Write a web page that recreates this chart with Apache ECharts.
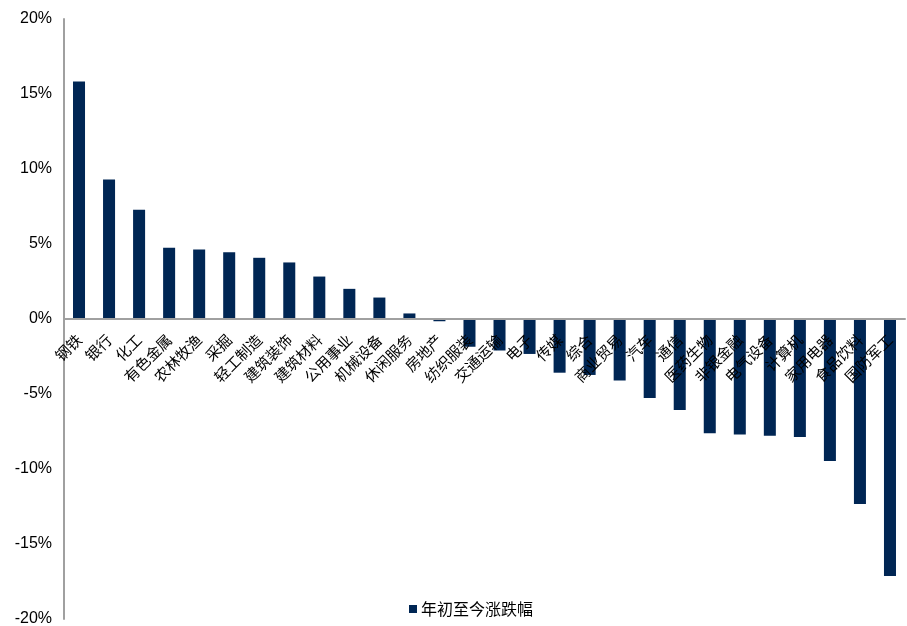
<!DOCTYPE html>
<html>
<head>
<meta charset="utf-8">
<script src="https://cdn.jsdelivr.net/npm/echarts@6/dist/echarts.min.js"></script>
<style>html,body{margin:0;padding:0;background:#fff}#c{width:907px;height:626px}</style>
</head>
<body>
<div id="c"></div>
<script>
const categories = ['钢铁','银行','化工','有色金属','农林牧渔','采掘','轻工制造','建筑装饰','建筑材料','公用事业','机械设备','休闲服务','房地产','纺织服装','交通运输','电子','传媒','综合','商业贸易','汽车','通信','医药生物','非银金融','电气设备','计算机','家用电器','食品饮料','国防军工'];
const ytdChange = [15.83, 9.3, 7.28, 4.75, 4.63, 4.45, 4.08, 3.77, 2.83, 2.01, 1.43, 0.37, -0.15, -1.85, -2.1, -2.33, -3.58, -3.73, -4.1, -5.27, -6.07, -7.61, -7.7, -7.79, -7.86, -9.46, -12.33, -17.13];
const seriesName = '年初至今涨跌幅';
const yTicks = {min: -20, max: 20, interval: 5};

const chart = echarts.init(document.getElementById('c'));
chart.setOption({
  animation: false,
  grid: {left: 64, right: 2, top: 19, bottom: 7, containLabel: false, outerBoundsMode: 'none'},
  legend: {
    data: [seriesName], left: 404, top: 596,
    icon: 'rect', itemWidth: 8, itemHeight: 8, itemGap: 4,
    textStyle: {fontFamily: 'Noto Sans CJK SC', fontSize: 16, color: '#000', padding: [0, 0, 0, -1]}
  },
  xAxis: {
    type: 'category', data: categories, position: 'bottom', offset: -300, z: 10,
    axisLine: {onZero: false, lineStyle: {color: '#a0a0a0', width: 2}},
    axisTick: {show: false},
    axisLabel: {interval: 0, rotate: 45, margin: 18, fontFamily: 'Noto Sans CJK SC', fontSize: 15, color: '#000'}
  },
  yAxis: {
    type: 'value', min: yTicks.min, max: yTicks.max, interval: yTicks.interval,
    axisLine: {show: true, lineStyle: {color: '#a0a0a0', width: 2}},
    axisTick: {show: false},
    splitLine: {show: false},
    axisLabel: {formatter: '{value}%', margin: 12, fontFamily: 'Liberation Sans', fontSize: 16, color: '#000'}
  },
  series: [{
    name: seriesName, type: 'bar', data: ytdChange, barWidth: '40%', z: 1,
    itemStyle: {color: '#002654'}
  }]
});
</script>
</body>
</html>
